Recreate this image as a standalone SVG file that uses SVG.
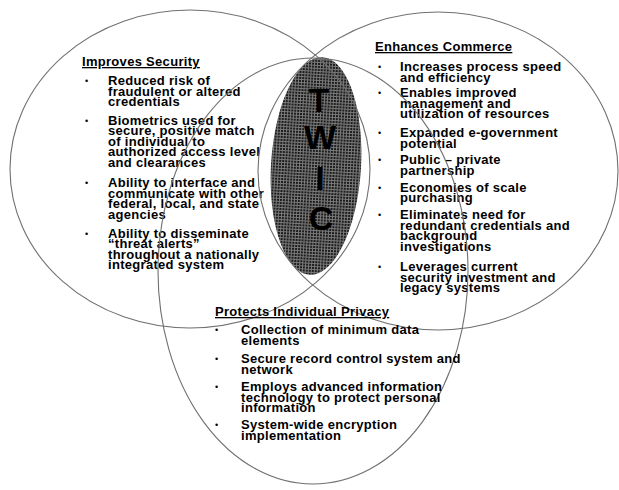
<svg xmlns="http://www.w3.org/2000/svg" width="619" height="490" viewBox="0 0 619 490">
<style>
.ring{fill:none;stroke:#707070;stroke-width:1.1}
.t{font-family:"Liberation Sans",Arial,sans-serif;font-size:13px;font-weight:bold;letter-spacing:0.3px;fill:#000}
.h{text-decoration:underline}
.b{font-family:"Liberation Sans",Arial,sans-serif;font-size:9px;fill:#000}
.twic{font-family:"Liberation Sans",Arial,sans-serif;font-size:34px;font-weight:bold;fill:#000;text-anchor:middle}
</style>
<defs>
<pattern id="halftone" width="3" height="3" patternUnits="userSpaceOnUse">
<rect width="3" height="3" fill="#7a7a7a"/>
<rect width="2" height="2" fill="#1c1c1c"/>
</pattern>
</defs>
<rect width="619" height="490" fill="#fff"/>

<g id="twic">
<ellipse cx="316" cy="166" rx="45" ry="109" fill="url(#halftone)" transform="rotate(3.4 316 166)"/>
<text class="twic" x="319" y="112">T</text>
<text class="twic" x="320" y="149">W</text>
<text class="twic" x="320" y="190">I</text>
<text class="twic" x="321" y="230">C</text>
</g>

<g id="improves-security">
<ellipse class="ring" cx="190" cy="169" rx="180" ry="159"/>
<text class="t h" x="82" y="66">Improves Security</text>
<text class="b" x="85" y="84">•</text>
<text class="t" x="108" y="85"><tspan x="108" y="85">Reduced risk of</tspan><tspan x="108" y="95.6">fraudulent or altered</tspan><tspan x="108" y="106.2">credentials</tspan></text>
<text class="b" x="85" y="123.5">•</text>
<text class="t" x="108" y="124.5"><tspan x="108" y="124.5">Biometrics used for</tspan><tspan x="108" y="135.1">secure, positive match</tspan><tspan x="108" y="145.7">of individual to</tspan><tspan x="108" y="156.3">authorized access level</tspan><tspan x="108" y="166.9">and clearances</tspan></text>
<text class="b" x="85" y="186">•</text>
<text class="t" x="108" y="187"><tspan x="108" y="187">Ability to interface and</tspan><tspan x="108" y="197.6">communicate with other</tspan><tspan x="108" y="208.2">federal, local, and state</tspan><tspan x="108" y="218.8">agencies</tspan></text>
<text class="b" x="85" y="236.5">•</text>
<text class="t" x="108" y="237.5"><tspan x="108" y="237.5">Ability to disseminate</tspan><tspan x="108" y="248.1">“threat alerts”</tspan><tspan x="108" y="258.7">throughout a nationally</tspan><tspan x="108" y="269.3">integrated system</tspan></text>
</g>

<g id="enhances-commerce">
<ellipse class="ring" cx="438" cy="171" rx="180" ry="159"/>
<text class="t h" x="375" y="51">Enhances Commerce</text>
<text class="b" x="378" y="70">•</text>
<text class="t" x="400" y="71"><tspan x="400" y="71">Increases process speed</tspan><tspan x="400" y="81.6">and efficiency</tspan></text>
<text class="b" x="378" y="96">•</text>
<text class="t" x="400" y="97"><tspan x="400" y="97">Enables improved</tspan><tspan x="400" y="107.6">management and</tspan><tspan x="400" y="118.2">utilization of resources</tspan></text>
<text class="b" x="378" y="136">•</text>
<text class="t" x="400" y="137"><tspan x="400" y="137">Expanded e-government</tspan><tspan x="400" y="147.6">potential</tspan></text>
<text class="b" x="378" y="163">•</text>
<text class="t" x="400" y="164"><tspan x="400" y="164">Public – private</tspan><tspan x="400" y="174.6">partnership</tspan></text>
<text class="b" x="378" y="190.5">•</text>
<text class="t" x="400" y="191.5"><tspan x="400" y="191.5">Economies of scale</tspan><tspan x="400" y="202.1">purchasing</tspan></text>
<text class="b" x="378" y="218">•</text>
<text class="t" x="400" y="219"><tspan x="400" y="219">Eliminates need for</tspan><tspan x="400" y="229.6">redundant credentials and</tspan><tspan x="400" y="240.2">background</tspan><tspan x="400" y="250.8">investigations</tspan></text>
<text class="b" x="378" y="270">•</text>
<text class="t" x="400" y="271"><tspan x="400" y="271">Leverages current</tspan><tspan x="400" y="281.6">security investment and</tspan><tspan x="400" y="292.2">legacy systems</tspan></text>
</g>

<g id="protects-privacy">
<ellipse class="ring" cx="313" cy="271" rx="155" ry="213"/>
<text class="t h" x="215" y="316">Protects Individual Privacy</text>
<text class="b" x="215" y="333">•</text>
<text class="t" x="241" y="334"><tspan x="241" y="334">Collection of minimum data</tspan><tspan x="241" y="344.6">elements</tspan></text>
<text class="b" x="215" y="362">•</text>
<text class="t" x="241" y="363"><tspan x="241" y="363">Secure record control system and</tspan><tspan x="241" y="373.6">network</tspan></text>
<text class="b" x="215" y="390">•</text>
<text class="t" x="241" y="391"><tspan x="241" y="391">Employs advanced information</tspan><tspan x="241" y="401.6">technology to protect personal</tspan><tspan x="241" y="412.2">information</tspan></text>
<text class="b" x="215" y="428">•</text>
<text class="t" x="241" y="429"><tspan x="241" y="429">System-wide encryption</tspan><tspan x="241" y="439.6">implementation</tspan></text>
</g>
</svg>
